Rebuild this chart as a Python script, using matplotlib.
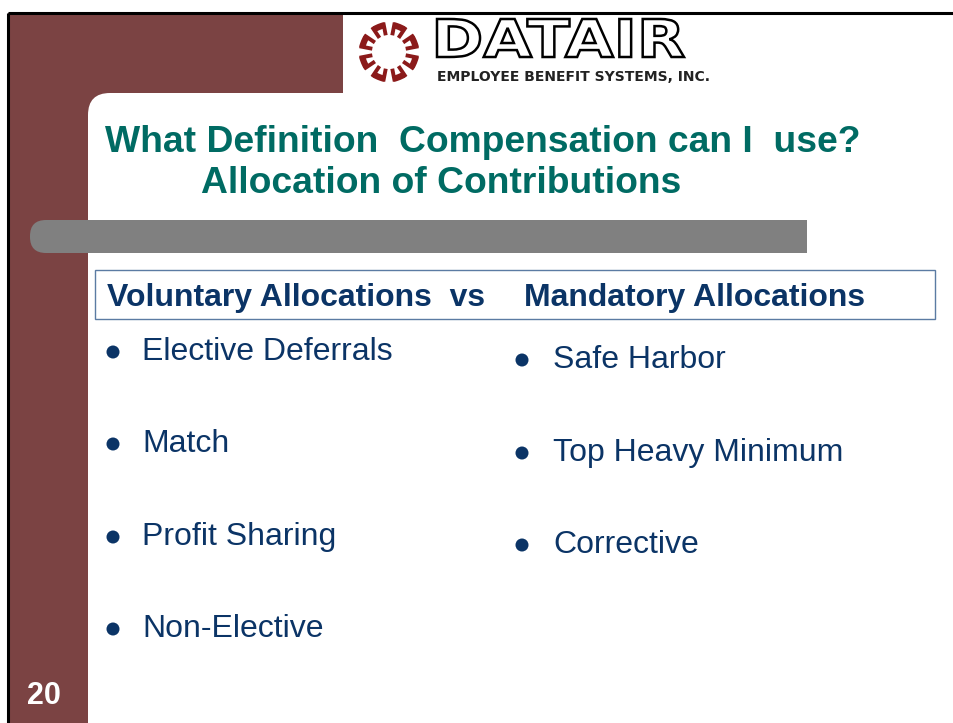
import matplotlib
matplotlib.use("Agg")
import matplotlib.pyplot as plt
from matplotlib.patches import Rectangle, FancyBboxPatch, Circle, Arc, PathPatch
from matplotlib.textpath import TextPath
from matplotlib.font_manager import FontProperties
from matplotlib.transforms import Affine2D
import numpy as np

title_lines = ["What Definition  Compensation can I  use?", "Allocation of Contributions"]
header_left = "Voluntary Allocations  vs"
header_right = "Mandatory Allocations"
voluntary = ["Elective Deferrals", "Match", "Profit Sharing", "Non-Elective"]
mandatory = ["Safe Harbor", "Top Heavy Minimum", "Corrective"]
slide_number = "20"
company = "DATAIR"
company_sub = "EMPLOYEE BENEFIT SYSTEMS, INC."

MAROON = "#7B4343"
TEAL = "#006B63"
NAVY = "#0B3466"
GRAY = "#808080"
LOGO_RED = "#8B1A1A"

W, H = 954, 723
fig = plt.figure(figsize=(W / 100, H / 100), dpi=100)
ax = fig.add_axes([0, 0, 1, 1])
ax.set_xlim(0, W)
ax.set_ylim(H, 0)
ax.axis("off")

FONT = "Liberation Sans"

# maroon L-shaped frame
ax.add_patch(Rectangle((8, 13), 80, H - 13, color=MAROON, lw=0))
ax.add_patch(Rectangle((8, 13), 335, 80, color=MAROON, lw=0))
ax.add_patch(Rectangle((80, 85), 40, 40, color=MAROON, lw=0))
# white rounded panel corner
ax.add_patch(FancyBboxPatch((88, 93), 900, 700, boxstyle="round,pad=0,rounding_size=22",
                            fc="white", ec="none", lw=0))
# black border lines
ax.plot([8, W], [13, 13], color="black", lw=2.2, solid_capstyle="butt")
ax.plot([8, 8], [13, H], color="black", lw=2.2, solid_capstyle="butt")

# gray bar with rounded left end
ax.add_patch(FancyBboxPatch((30, 220), 777, 33, boxstyle="round,pad=0,rounding_size=16",
                            fc=GRAY, ec="none"))
ax.add_patch(Rectangle((780, 220), 27, 33, fc=GRAY, ec="none"))

# header box
ax.add_patch(Rectangle((95, 270), 840, 49, fc="white", ec="#5B7BA3", lw=1.0))

# title
ax.text(105, 152, title_lines[0], fontsize=26.8, fontweight="bold", color=TEAL,
        family=FONT, va="baseline", ha="left")
ax.text(201, 193, title_lines[1], fontsize=26.8, fontweight="bold", color=TEAL,
        family=FONT, va="baseline", ha="left")

# header texts
ax.text(107, 306, header_left, fontsize=23, fontweight="bold", color=NAVY,
        family=FONT, va="baseline", ha="left")
ax.text(524, 306, header_right, fontsize=23, fontweight="bold", color=NAVY,
        family=FONT, va="baseline", ha="left")

# bullets
left_y = [360, 452, 545, 637]
for txt, y in zip(voluntary, left_y):
    ax.add_patch(Circle((113, y - 8), 6.5, color=NAVY, lw=0))
    ax.text(142, y, txt, fontsize=23, color=NAVY, family=FONT, va="baseline", ha="left")
right_y = [368, 461, 553]
for txt, y in zip(mandatory, right_y):
    ax.add_patch(Circle((522, y - 8), 6.5, color=NAVY, lw=0))
    ax.text(553, y, txt, fontsize=23, color=NAVY, family=FONT, va="baseline", ha="left")

# slide number
ax.text(27, 704, slide_number, fontsize=22, fontweight="bold", color="white",
        family=FONT, va="baseline", ha="left")

# logo emblem
cx, cy, r = 389, 52, 27
for k in range(8):
    a0 = k * 45 + 9
    a1 = k * 45 + 36
    ax.add_patch(Arc((cx, cy), 2 * r, 2 * r, theta1=a0, theta2=a1, color=LOGO_RED, lw=4.5))
    for a in (a0 + 2, a1 - 2):
        t = np.deg2rad(a)
        ax.plot([cx + (r + 3) * np.cos(t), cx + (r - 10) * np.cos(t)],
                [cy + (r + 3) * np.sin(t), cy + (r - 10) * np.sin(t)],
                color=LOGO_RED, lw=2.8, solid_capstyle="butt")

# DATAIR outlined wordmark, fitted into its box
tp = TextPath((0, 0), company, size=100,
              prop=FontProperties(family="DejaVu Sans", weight="bold"))
ext = tp.get_extents()
x0, y0, x1, y1 = 437, 19, 684, 57
tr = (Affine2D().translate(-ext.x0, -ext.y0)
      .scale((x1 - x0) / ext.width, -(y1 - y0) / ext.height)
      .translate(x0, y1))
ax.add_patch(PathPatch(tr.transform_path(tp), fc="white", ec="black", lw=1.8))
ax.text(437, 81, company_sub, fontsize=10, fontweight="bold", color="#222222",
        family="DejaVu Sans", va="baseline", ha="left")

fig.savefig("out.png", dpi=100)
